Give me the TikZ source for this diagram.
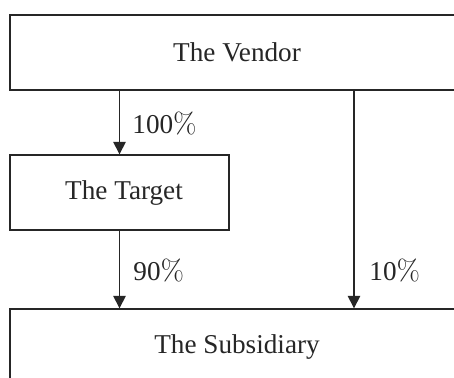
\documentclass[tikz,border=0pt]{standalone}
\usepackage[no-math]{fontspec}
\setmainfont{Liberation Serif}
\usetikzlibrary{arrows.meta}
\definecolor{ink}{HTML}{262626}
\tikzset{
  entity/.style={draw=ink, line width=0.7pt, rectangle, inner sep=0pt,
    minimum height=37.5pt, text=ink,
    font=\fontsize{13.6}{16}\selectfont},
  holding/.style={draw=ink, line width=0.7pt,
    -{Triangle[width=6.2pt,length=6.2pt]}},
  share/.style={anchor=west, inner sep=0pt, text=ink,
    font=\fontsize{13.6}{16}\selectfont}
}
\begin{document}
\begin{tikzpicture}[x=0.5pt, y=-0.5pt]
  \clip (0,0) rectangle (454,377);
  \fill[white] (0,0) rectangle (454,377);

  % companies
  \node[entity, minimum width=227pt] (vendor) at (237,52.5) {\raisebox{-1.2pt}{The Vendor}};
  \node[entity, minimum width=109.5pt] (target) at (119.5,192.5) {\hspace*{4.5pt}\raisebox{-1pt}{The Target}};
  \node[entity, minimum width=227pt] (sub) at (237,346.5) {\raisebox{-1pt}{The Subsidiary}};

  % right-hand holding line
  \coordinate (rline) at (354,0);

  % shareholdings
  \draw[holding] (vendor.south -| target.north) -- (target.north);
  \draw[holding] (target.south) -- (sub.north -| target.south);
  \draw[holding] (vendor.south -| rline) -- (sub.north -| rline);

  \node[share] (p100) at (132,123) {100$\%$};
  \node[share] (p90) at (133,270) {90$\%$};
  \node[share] (p10) at (369,270) {10$\%$};
\end{tikzpicture}
\end{document}
